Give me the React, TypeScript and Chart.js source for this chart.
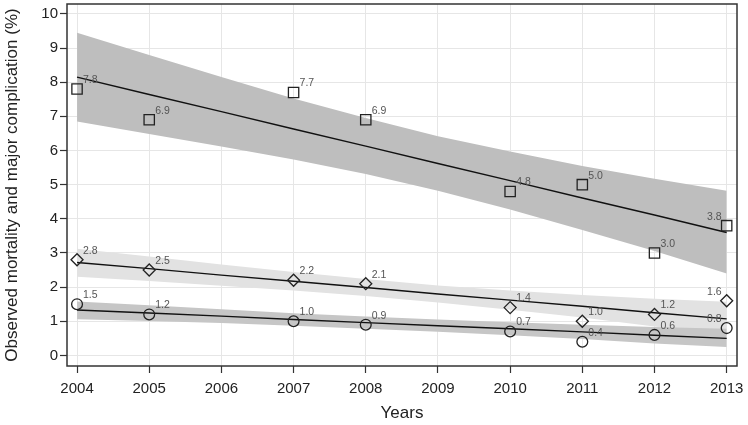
import React, { useEffect, useRef } from "react";
import { Chart, registerables } from "chart.js";

Chart.register(...registerables);

// Years on the axis and years with observations
const fitYears = [2004, 2005, 2006, 2007, 2008, 2009, 2010, 2011, 2012, 2013];
const obsYears = [2004, 2005, 2007, 2008, 2010, 2011, 2012, 2013];

// Observed values (%)
const squareValues = [7.8, 6.9, 7.7, 6.9, 4.8, 5.0, 3.0, 3.8];
const diamondValues = [2.8, 2.5, 2.2, 2.1, 1.4, 1.0, 1.2, 1.6];
const circleValues = [1.5, 1.2, 1.0, 0.9, 0.7, 0.4, 0.6, 0.8];

// Fitted trend lines
const squareFit = [8.15, 7.64, 7.14, 6.63, 6.13, 5.62, 5.12, 4.61, 4.11, 3.6];
const diamondFit = [2.72, 2.54, 2.35, 2.17, 1.99, 1.8, 1.62, 1.44, 1.25, 1.07];
const circleFit = [1.33, 1.24, 1.15, 1.05, 0.96, 0.87, 0.78, 0.69, 0.59, 0.5];

// Confidence bands
const squareUpper = [9.45, 8.8, 8.15, 7.52, 6.95, 6.42, 5.97, 5.55, 5.17, 4.82];
const squareLower = [6.85, 6.48, 6.12, 5.74, 5.31, 4.82, 4.27, 3.67, 3.06, 2.4];
const diamondUpper = [3.12, 2.9, 2.66, 2.44, 2.24, 2.05, 1.9, 1.77, 1.66, 1.57];
const diamondLower = [2.3, 2.18, 2.04, 1.9, 1.74, 1.55, 1.34, 1.11, 0.85, 0.59];
const circleUpper = [1.58, 1.47, 1.35, 1.235, 1.14, 1.05, 0.97, 0.9, 0.83, 0.78];
const circleLower = [1.06, 1.01, 0.95, 0.865, 0.78, 0.69, 0.59, 0.48, 0.35, 0.25];

const xTicks = [2004, 2005, 2006, 2007, 2008, 2009, 2010, 2011, 2012, 2013];
const yTicks = [0, 1, 2, 3, 4, 5, 6, 7, 8, 9, 10];

const yTitle = "Observed mortality and major complication (%)";
const xTitle = "Years";

const FONT = '"Liberation Sans", Arial, Helvetica, sans-serif';

const toXY = (xs: number[], ys: number[]) => xs.map((x, i) => ({ x, y: ys[i] }));

const framePlugin = {
  id: "frame",
  afterDatasetsDraw(chart: any) {
    const { ctx, chartArea } = chart;
    ctx.save();
    ctx.strokeStyle = "#333";
    ctx.lineWidth = 1.5;
    ctx.strokeRect(chartArea.left, chartArea.top, chartArea.right - chartArea.left, chartArea.bottom - chartArea.top);
    ctx.restore();
  },
};

const labelPlugin = {
  id: "pointValueLabels",
  afterDatasetsDraw(chart: any) {
    const ctx = chart.ctx;
    ctx.save();
    ctx.font = `10.5px ${FONT}`;
    ctx.fillStyle = "#555";
    ctx.textBaseline = "middle";
    chart.data.datasets.forEach((ds: any, i: number) => {
      if (!ds.showValues) return;
      const meta = chart.getDatasetMeta(i);
      meta.data.forEach((el: any, j: number) => {
        const v = ds.data[j].y as number;
        const last = j === ds.data.length - 1;
        ctx.textAlign = last ? "right" : "left";
        ctx.fillText(v.toFixed(1), last ? el.x - 5 : el.x + 6, el.y - 9);
      });
    });
    ctx.restore();
  },
};

export default function App() {
  const ref = useRef<HTMLCanvasElement | null>(null);

  useEffect(() => {
    document.body.style.margin = "0";
    if (!ref.current) return;

    const band = (upper: number[], lower: number[], color: string, order: number) => [
      {
        data: toXY(fitYears, upper),
        borderWidth: 0,
        pointRadius: 0,
        backgroundColor: color,
        fill: "+1",
        order,
      },
      {
        data: toXY(fitYears, lower),
        borderWidth: 0,
        pointRadius: 0,
        fill: false,
        order,
      },
    ];
    const fitLine = (vals: number[]) => ({
      data: toXY(fitYears, vals),
      borderColor: "#111",
      borderWidth: 1.4,
      pointRadius: 0,
      fill: false,
      order: 3,
    });
    const points = (vals: number[], style: string, radius: number) => ({
      data: toXY(obsYears, vals),
      showLine: false,
      pointStyle: style,
      pointRadius: radius,
      pointBorderColor: "#222",
      pointBackgroundColor: "rgba(0,0,0,0)",
      pointBorderWidth: 1.3,
      order: 1,
      showValues: true,
    });

    const chart = new Chart(ref.current, {
      type: "line",
      data: {
        datasets: [
          ...band(squareUpper, squareLower, "#bebebe", 10),
          ...band(diamondUpper, diamondLower, "#e2e2e2", 9),
          ...band(circleUpper, circleLower, "#c6c6c6", 8),
          fitLine(squareFit),
          fitLine(diamondFit),
          fitLine(circleFit),
          points(squareValues, "rect", 7.3),
          points(diamondValues, "rectRot", 6),
          points(circleValues, "circle", 5.4),
        ] as any,
      },
      options: {
        animation: false,
        responsive: true,
        maintainAspectRatio: false,
        layout: { autoPadding: false, padding: { left: 2, top: 4, right: 11, bottom: 0 } },
        plugins: {
          legend: { display: false },
          tooltip: { enabled: false },
        },
        elements: { line: { tension: 0 } },
        scales: {
          x: {
            type: "linear",
            min: 2003.861,
            max: 2013.143,
            afterBuildTicks: (s: any) => {
              s.ticks = xTicks.map((v) => ({ value: v }));
            },
            afterFit: (s: any) => {
              s.height = 59;
              s.paddingLeft = 0;
              s.paddingRight = 0;
            },
            border: { display: false },
            grid: { color: "#e6e6e6", lineWidth: 1, tickLength: 7, tickColor: "#333", tickWidth: 1.2 },
            ticks: {
              padding: 7,
              color: "#222",
              font: { family: FONT, size: 15 },
              callback: (v: any) => String(v),
              maxRotation: 0,
              autoSkip: false,
            },
            title: {
              display: true,
              text: xTitle,
              color: "#222",
              font: { family: FONT, size: 17 },
              padding: { top: 0, bottom: 1 },
            },
          },
          y: {
            type: "linear",
            min: -0.31,
            max: 10.29,
            afterBuildTicks: (s: any) => {
              s.ticks = yTicks.map((v) => ({ value: v }));
            },
            afterFit: (s: any) => {
              s.width = 65;
              s.paddingTop = 0;
              s.paddingBottom = 0;
            },
            border: { display: false },
            grid: { color: "#e6e6e6", lineWidth: 1, tickLength: 7, tickColor: "#333", tickWidth: 1.2 },
            ticks: {
              padding: 2,
              color: "#222",
              font: { family: FONT, size: 15 },
              callback: (v: any) => String(v),
              autoSkip: false,
            },
            title: {
              display: true,
              text: yTitle,
              color: "#222",
              font: { family: FONT, size: 17 },
              padding: { top: 0, bottom: 0 },
            },
          },
        },
      } as any,
      plugins: [framePlugin, labelPlugin],
    });

    return () => chart.destroy();
  }, []);

  return (
    <div style={{ width: 748, height: 425, position: "relative" }}>
      <canvas ref={ref} />
    </div>
  );
}
